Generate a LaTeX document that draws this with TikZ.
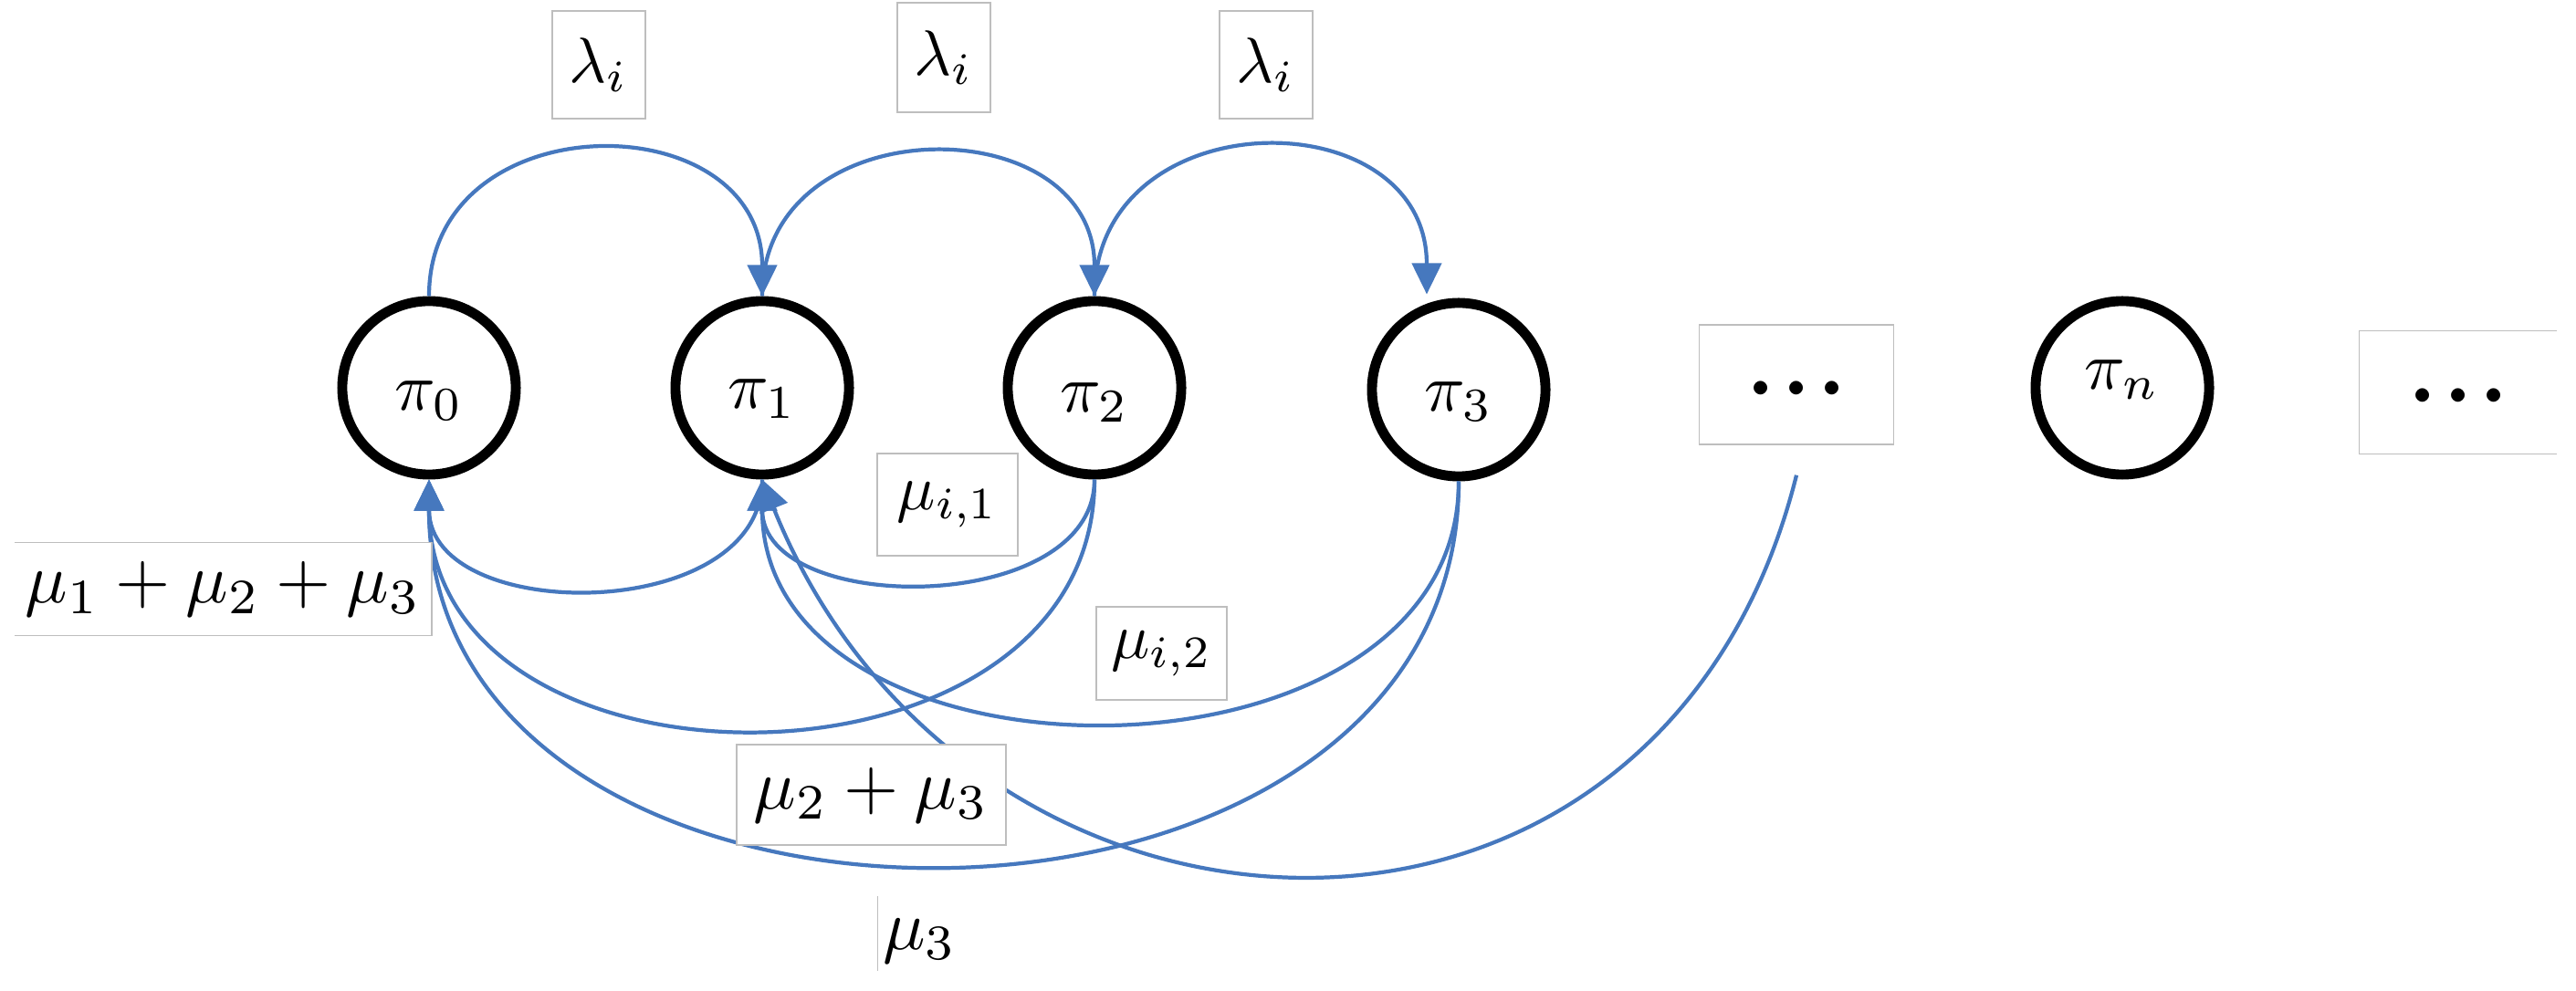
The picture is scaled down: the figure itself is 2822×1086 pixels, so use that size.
\documentclass[tikz,border=0pt]{standalone}
\usepackage{graphicx}
\usetikzlibrary{arrows.meta}
\definecolor{myblue}{RGB}{70,120,190}
\definecolor{boxgray}{RGB}{190,190,190}
\newcommand\lift[2]{\raisebox{#1}[\height][\depth]{#2}}
\newcommand\mlab[2][2.0]{\scalebox{#1}{$#2$}}
\newcommand\dotsfill{\raisebox{-11pt}[0pt][0pt]{\scalebox{4}{${\cdot}{\cdot}{\cdot}$}}}
\begin{document}
\begin{tikzpicture}[x=0.01cm,y=-0.01cm,
  st/.style={circle, draw=black, line width=3.1pt, minimum size=1.9cm, inner sep=0pt},
  lb/.style={draw=boxgray, line width=0.4pt, fill=white, inner sep=0pt},
  lbo/.style={fill=white, inner sep=0pt},
  edge/.style={draw=boxgray, line width=0.4pt},
  arr/.style={draw=myblue, line width=1.2pt, -{Triangle[length=0.34cm,width=0.32cm]}}
]
\useasboundingbox[fill=white] (0,0) rectangle (2822,1086);

% states
\node[st] (p0) at (470,425) {\lift{-0.14cm}{\mlab[2.1]{\pi_0}}};
\node[st] (p1) at (835,425) {\lift{-0.12cm}{\mlab[2.1]{\pi_1}}};
\node[st] (p2) at (1199,425) {\lift{-0.16cm}{\mlab[2.1]{\pi_2}}};
\node[st] (p3) at (1598,427) {\lift{-0.13cm}{\mlab[2.1]{\pi_3}}};
\node[st] (pn) at (2325,425) {\lift{0.09cm}{\mlab[2.1]{\pi_n}}};

% dots boxes
\node[lb, minimum width=2.13cm, minimum height=1.31cm] (d1) at (1968,421.5) {\dotsfill};
\node[lbo, minimum width=2.15cm, minimum height=1.34cm] (d2) at (2693,430) {\dotsfill};
\draw[edge] (d2.north east) -- (d2.north west) -- (d2.south west) -- (d2.south east);
\coordinate (d1s) at ([yshift=-0.33cm]d1.south);

% arrival arcs (top)
\draw[arr] (p0.north) to[out=90,in=90,looseness=1.5] (p1.north);
\draw[arr] (p1.north) to[out=90,in=90,looseness=1.47] (p2.north);
\draw[arr] (p2.north) to[out=90,in=90,looseness=1.52] ([xshift=-0.35cm,yshift=0.04cm]p3.north);

% service arcs (bottom)
\draw[arr] (p1.south) to[out=-90,in=-90,looseness=1.12] (p0.south);
\draw[arr] (p2.south) to[out=-90,in=-90,looseness=1.06] (p1.south);
\draw[arr] (p2.south) to[out=-90,in=-90,looseness=1.28] (p0.south);
\draw[arr] (p3.south) to[out=-90,in=-90,looseness=1.18] (p1.south);
\draw[arr] (p3.south) to[out=-90,in=-90,looseness=1.27] (p0.south);
\draw[arr] (d1s) .. controls +(-150,600) and +(224,560) .. (p1.south);

% labels
\node[lb, minimum width=1.02cm, minimum height=1.18cm] (l1) at (656,71) {\mlab{\lambda_i}};
\node[lb, minimum width=1.02cm, minimum height=1.20cm] (l2) at (1034,63) {\mlab{\lambda_i}};
\node[lb, minimum width=1.02cm, minimum height=1.18cm] (l3) at (1387,71) {\mlab{\lambda_i}};
\node[lb, minimum width=1.54cm, minimum height=1.12cm] (m1) at (1038,553) {\mlab{\mu_{i,1}}};
\node[lb, minimum width=1.43cm, minimum height=1.02cm] (m2) at (1272.5,716) {\mlab{\mu_{i,2}}};
\node[lb, minimum width=2.95cm, minimum height=1.10cm] (m23) at (954.5,871) {\mlab[2.2]{\mu_2+\mu_3}};
\node[lbo, minimum width=4.55cm, minimum height=1.01cm] (m123) at (244.5,645.5) {\mlab[2.2]{\mu_1+\mu_2+\mu_3}};
\draw[edge] (m123.north west) -- (m123.north east) -- (m123.south east) -- (m123.south west);
\node[lbo, minimum width=0.92cm, minimum height=0.80cm] (m3) at (1008,1023) {\lift{-0.08cm}{\mlab[2.2]{\mu_3}}};
\draw[edge] (m3.north west) -- (m3.south west);
\end{tikzpicture}
\end{document}
